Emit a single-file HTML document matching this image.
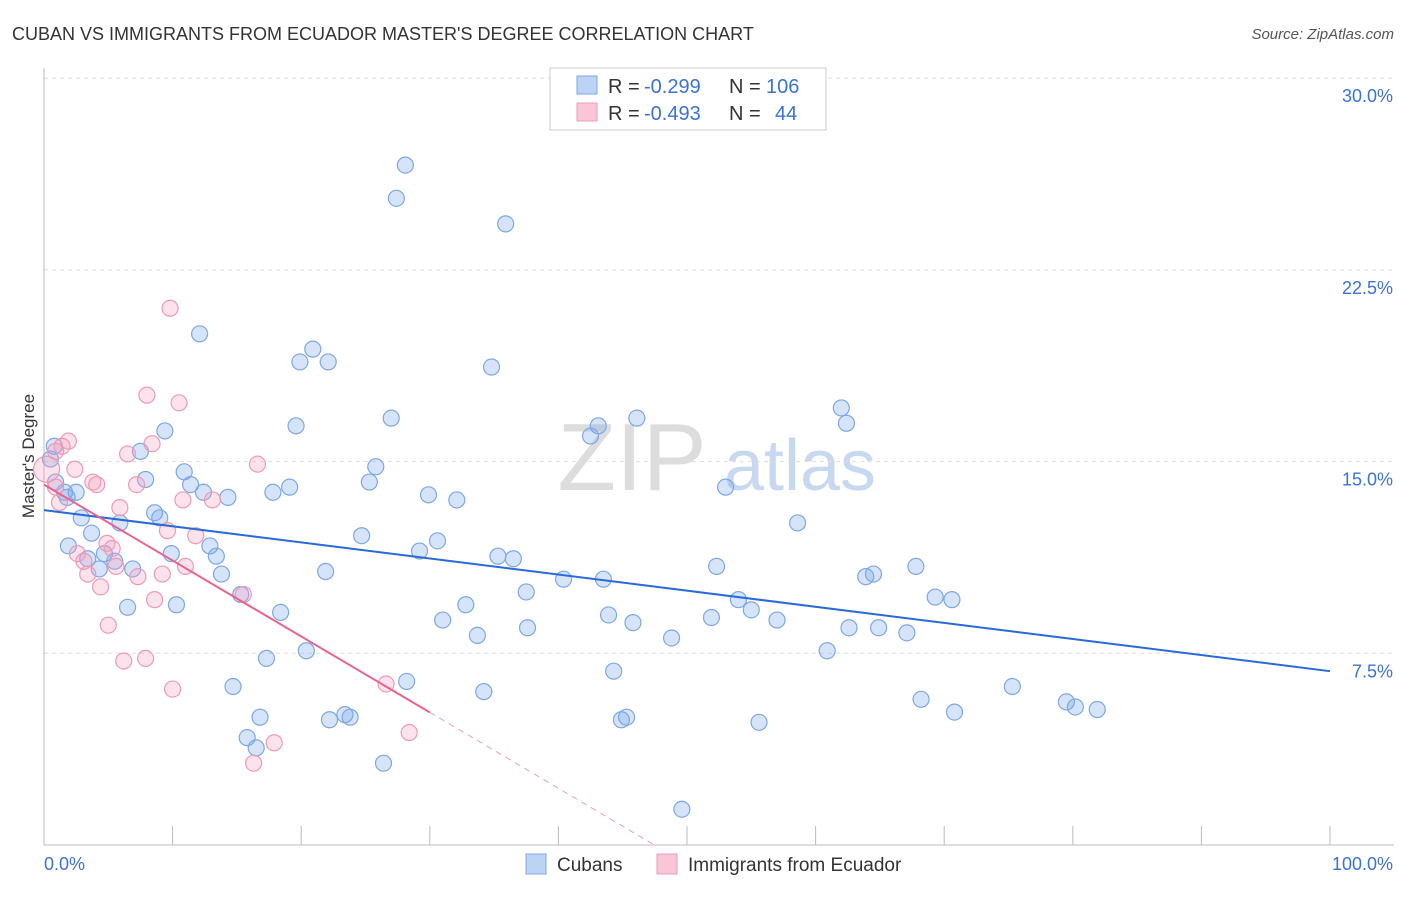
<!DOCTYPE html>
<html><head><meta charset="utf-8"><style>
body{margin:0;background:#fff;font-family:"Liberation Sans",sans-serif}
svg text{font-family:"Liberation Sans",sans-serif}
</style></head><body>
<svg id="c" width="1406" height="892">
<text x="12" y="40" font-size="18" fill="#333">CUBAN VS IMMIGRANTS FROM ECUADOR MASTER'S DEGREE CORRELATION CHART</text>
<text x="1394" y="39" font-size="15" fill="#555" text-anchor="end" font-style="italic">Source: ZipAtlas.com</text>
<text x="632" y="490" font-size="96" fill="#ddd" font-family="Liberation Serif" text-anchor="middle">ZIP</text>
<text x="800" y="490" font-size="72" fill="#c8d8f0" text-anchor="middle">atlas</text>
<text transform="translate(34,456) rotate(-90)" font-size="17" fill="#333" text-anchor="middle">Master's Degree</text>
<g id="grid"></g><g id="axes"></g><g id="pts"></g><g id="lines"></g>
<g>
<rect x="550" y="68" width="276" height="62" fill="#fff" stroke="#ccc"/>
<rect x="577" y="76" width="20" height="18" fill="#bcd3f5" stroke="#7ea7e4"/>
<rect x="577" y="103" width="20" height="18" fill="#f8c6d6" stroke="#ee9ab6"/>
<text x="608" y="93" font-size="20" fill="#333">R =</text>
<text x="644" y="93" font-size="20" fill="#3b72d8">-0.299</text>
<text x="729" y="93" font-size="20" fill="#333">N =</text>
<text x="766" y="93" font-size="20" fill="#3b72d8">106</text>
<text x="608" y="120" font-size="20" fill="#333">R =</text>
<text x="644" y="120" font-size="20" fill="#3b72d8">-0.493</text>
<text x="729" y="120" font-size="20" fill="#333">N =</text>
<text x="775" y="120" font-size="20" fill="#3b72d8">44</text>
</g>
<g>
<rect x="526" y="854" width="20" height="20" fill="#bcd3f5" stroke="#7ea7e4"/>
<text x="557" y="871" font-size="19" fill="#333">Cubans</text>
<rect x="657" y="854" width="20" height="20" fill="#f8c6d6" stroke="#ee9ab6"/>
<text x="688" y="871" font-size="19" fill="#333">Immigrants from Ecuador</text>
</g>
</svg>
<script>
const yTicks=[30,22.5,15,7.5];
const yTickLabels=["30.0%","22.5%","15.0%","7.5%"];
const xTicks=[0,10,20,30,40,50,60,70,80,90,100];
const blueX=[28.1,27.4,35.9,12.1,20.9,19.9,22.1,34.8,27.0,46.1,62.0,62.4,43.1,42.5,19.6,9.4,7.5,0.8,0.5,25.8,10.9,7.9,25.3,19.1,11.4,0.9,53.0,12.4,14.3,17.8,29.9,32.1,1.6,2.5,1.8,8.6,9.0,2.9,5.9,58.6,3.7,24.7,30.6,1.9,12.9,29.2,4.7,9.9,13.4,3.4,35.3,36.5,5.5,4.3,6.9,21.9,52.3,67.8,64.5,63.9,13.8,40.4,43.5,37.5,15.3,54.0,69.3,70.6,6.5,10.3,32.8,55.0,18.4,43.9,51.9,31.0,45.8,57.0,37.6,62.6,64.9,67.1,33.7,48.8,20.4,60.9,17.3,44.3,28.2,14.7,75.3,34.2,68.2,79.5,80.2,81.9,70.8,23.4,23.8,22.2,16.8,45.3,44.9,55.6,15.8,16.5,26.4,49.6];
const blueY=[26.6,25.3,24.3,20.0,19.4,18.9,18.9,18.7,16.7,16.7,17.1,16.5,16.4,16.0,16.4,16.2,15.4,15.6,15.1,14.8,14.6,14.3,14.2,14.0,14.1,14.2,14.0,13.8,13.6,13.8,13.7,13.5,13.8,13.8,13.6,13.0,12.8,12.8,12.6,12.6,12.2,12.1,11.9,11.7,11.7,11.5,11.4,11.4,11.3,11.2,11.3,11.2,11.1,10.8,10.8,10.7,10.9,10.9,10.6,10.5,10.6,10.4,10.4,9.9,9.8,9.6,9.7,9.6,9.3,9.4,9.4,9.2,9.1,9.0,8.9,8.8,8.7,8.8,8.5,8.5,8.5,8.3,8.2,8.1,7.6,7.6,7.3,6.8,6.4,6.2,6.2,6.0,5.7,5.6,5.4,5.3,5.2,5.1,5.0,4.9,5.0,5.0,4.9,4.8,4.2,3.8,3.2,1.4];
const pinkX=[9.8,8.0,10.5,1.9,8.4,1.4,0.9,6.5,16.6,2.4,0.2,3.8,4.1,7.2,0.9,10.8,13.1,1.2,5.9,9.6,11.8,4.9,5.3,2.6,3.1,5.6,11.0,3.4,7.3,9.2,4.4,15.5,8.6,5.0,7.9,6.2,10.0,26.6,28.4,17.9,16.3];
const pinkY=[21.0,17.6,17.3,15.8,15.7,15.6,15.4,15.3,14.9,14.7,14.7,14.2,14.1,14.1,14.0,13.5,13.5,13.4,13.2,12.3,12.1,11.8,11.6,11.4,11.1,10.9,10.9,10.6,10.5,10.6,10.1,9.8,9.6,8.6,7.3,7.2,6.1,6.3,4.4,4.0,3.2];
const blueFit=[13.1,-0.063];
const pinkFit=[14.1,-0.297];
const NS="http://www.w3.org/2000/svg";
const X=v=>44+v*12.86, Y=v=>845-v*25.56;
function mk(t,a,p){const e=document.createElementNS(NS,t);for(const k in a)e.setAttribute(k,a[k]);document.getElementById(p).appendChild(e);return e;}
yTicks.forEach((t,i)=>{
 const l=mk('line',{x1:44,x2:1394,y1:Y(t),y2:Y(t),stroke:'#ddd','stroke-dasharray':'4,4'},'grid');
 
 
 const tx=mk('text',{x:1393,y:Y(t)+24,'font-size':18,fill:'#3b72d8','text-anchor':'end'},'axes');
 tx.textContent=yTickLabels[i];
 
 
});
mk('line',{x1:44,x2:44,y1:68,y2:845,stroke:'#bbb'},'axes');
mk('line',{x1:44,x2:1394,y1:845,y2:845,stroke:'#bbb'},'axes');
xTicks.forEach(t=>{const l=mk('line',{x1:X(t),x2:X(t),y1:826,y2:845,stroke:'#bbb'},'axes');
 
 });
let a=mk('text',{x:44,y:870,'font-size':18,fill:'#3b72d8'},'axes');a.textContent='0.0%';


a=mk('text',{x:1393,y:870,'font-size':18,fill:'#3b72d8','text-anchor':'end'},'axes');a.textContent='100.0%';


blueX.forEach((x,i)=>{const c=mk('circle',{cx:X(x),cy:Y(blueY[i]),r:8,fill:'rgba(120,165,235,0.3)',stroke:'#7ea7e4','stroke-width':1.2},'pts');
 
 });
pinkX.forEach((x,i)=>{const c=mk('circle',{cx:X(x),cy:Y(pinkY[i]),r:i==10?13:8,fill:'rgba(245,160,190,0.3)',stroke:'#ee9ab6','stroke-width':1.2},'pts');
 
 });
let l=mk('line',{x1:X(0),y1:Y(blueFit[0]),x2:X(100),y2:Y(blueFit[0]+blueFit[1]*100),stroke:'#2a6ad6','stroke-width':2},'lines');


l=mk('line',{x1:X(0),y1:Y(pinkFit[0]),x2:X(30),y2:Y(pinkFit[0]+pinkFit[1]*30),stroke:'#e8648f','stroke-width':2},'lines');


const z=-pinkFit[0]/pinkFit[1];
l=mk('line',{x1:X(30),y1:Y(pinkFit[0]+pinkFit[1]*30),x2:X(z),y2:Y(0),stroke:'#e8a0b8','stroke-width':1,'stroke-dasharray':'6,5'},'lines');


</script>
</body></html>
